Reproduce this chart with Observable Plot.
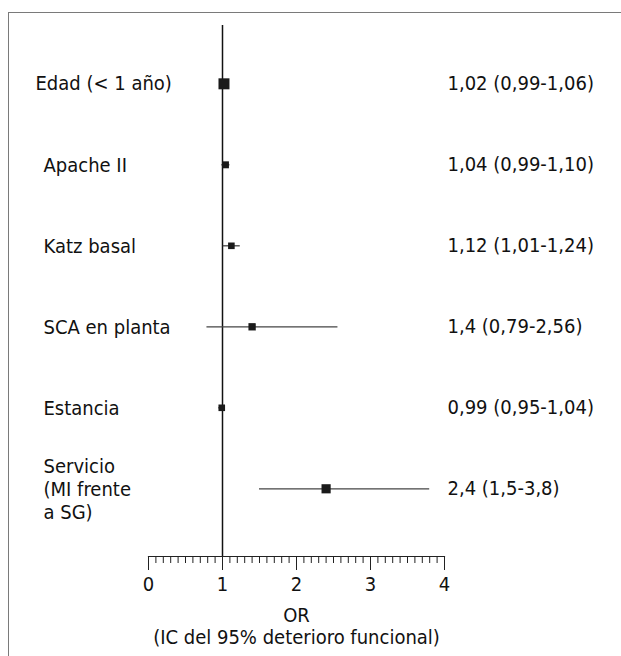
<!DOCTYPE html>
<html>
<head>
<meta charset="utf-8">
<script src="https://cdn.jsdelivr.net/npm/d3@7"></script>
<script src="https://cdn.jsdelivr.net/npm/@observablehq/plot@0.6"></script>
<style>
  html, body { margin: 0; padding: 0; background: #fff; overflow: hidden; width: 621px; height: 656px; }
  #border { position: absolute; left: 8px; top: 12px; width: 700px; height: 700px; border-left: 1px solid #7a7a7a; border-top: 1px solid #7a7a7a; }
  #chart { position: absolute; left: 0; top: 0; }
</style>
</head>
<body>
<div id="border"></div>
<div id="chart"></div>
<script>
// Data
const labels = ["Edad (< 1 año)", "Apache II", "Katz basal", "SCA en planta", "Estancia", "Servicio\n(MI frente\na SG)"];
const oddsRatio = [1.02, 1.04, 1.12, 1.4, 0.99, 2.4];
const ciLow = [0.99, 0.99, 1.01, 0.79, 0.95, 1.5];
const ciHigh = [1.06, 1.10, 1.24, 2.56, 1.04, 3.8];
const weights = [3, 1.9, 1.8, 2, 1.8, 2.5];
const resultLabels = ["1,02 (0,99-1,06)", "1,04 (0,99-1,10)", "1,12 (1,01-1,24)", "1,4 (0,79-2,56)", "0,99 (0,95-1,04)", "2,4 (1,5-3,8)"];
const majorTicks = [0, 1, 2, 3, 4];
const minorTicks = d3.range(41).map(i => i / 10);
const axisLabel = "OR\n(IC del 95% deterioro funcional)";

const rows = labels.map((label, i) => ({
  row: i, label, or: oddsRatio[i], lo: ciLow[i], hi: ciHigh[i], w: weights[i], result: resultLabels[i]
}));

const plot = Plot.plot({
  width: 621,
  height: 656,
  marginLeft: 148,
  marginRight: 177,
  marginTop: 25,
  marginBottom: 100,
  style: { fontFamily: "'DejaVu Sans Condensed', 'Liberation Sans Narrow', sans-serif", fontSize: "20px", color: "#111", background: "transparent" },
  x: { domain: [0, 4] },
  y: { domain: [-0.72, 5.836], reverse: true, axis: null },
  r: { type: "linear", domain: [0, 3], range: [0, 6.2] },
  marks: [
    Plot.frame({ anchor: "bottom", stroke: "#222", strokeWidth: 1.2 }),
    Plot.axisX(minorTicks, { tickSize: 7, tickFormat: () => "", label: null, stroke: "#222" }),
    Plot.axisX(majorTicks, { tickSize: 14, tickPadding: 6, tickFormat: d => String(d), label: null, stroke: "#222", fontSize: 20 }),
    Plot.ruleX([1], { stroke: "#111", strokeWidth: 1.5 }),
    Plot.ruleY(rows, { x1: "lo", x2: "hi", y: "row", stroke: "#444", strokeWidth: 1.3 }),
    Plot.dot(rows, { x: "or", y: "row", r: "w", symbol: "square", fill: "#1a1a1a", stroke: "none" }),
    Plot.text(rows.slice(0, 1), { y: "row", text: "label", frameAnchor: "left", dx: -113, textAnchor: "start", fill: "#111" }),
    Plot.text(rows.slice(1), { y: "row", text: "label", frameAnchor: "left", dx: -105, textAnchor: "start", lineHeight: 1.16, fill: "#111" }),
    Plot.text(rows, { y: "row", text: "result", frameAnchor: "right", dx: 3, textAnchor: "start", fill: "#111" }),
    Plot.text([axisLabel], { frameAnchor: "bottom", dy: 50, lineAnchor: "top", lineHeight: 1.1, text: d => d, fill: "#111" })
  ]
});
document.getElementById("chart").appendChild(plot);
</script>
</body>
</html>
